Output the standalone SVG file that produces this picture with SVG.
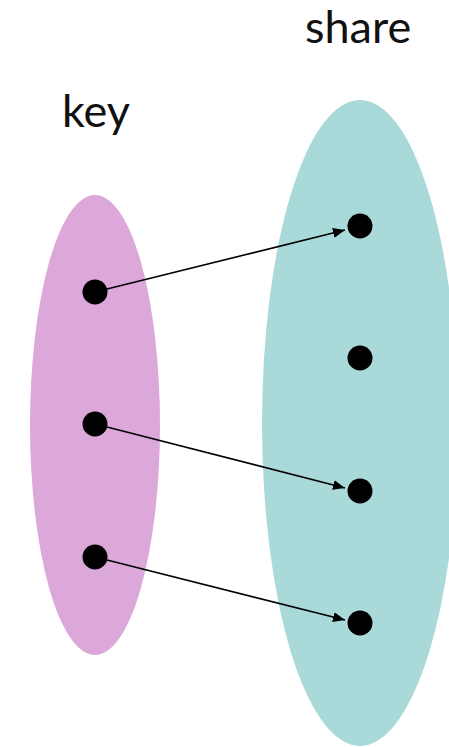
<svg xmlns="http://www.w3.org/2000/svg" width="449" height="747" viewBox="0 0 449 747">
<style>
.lbl{font-family:Lato,"Noto Sans",sans-serif;font-size:45px;fill:#111}
.dot{fill:#000}
.arr{stroke:#000;stroke-width:1.6;fill:none;marker-end:url(#ah)}
</style>
<defs>
<marker id="ah" viewBox="0 0 12 10" refX="12" refY="5" markerWidth="12" markerHeight="10" markerUnits="userSpaceOnUse" orient="auto">
<path d="M0,0 L12,5 L0,10 Z" fill="#000"/>
</marker>
</defs>
<rect width="449" height="747" fill="#fff"/>
<g id="set-key">
<ellipse cx="95" cy="425" rx="65" ry="230" fill="#DCA8DA"/>
<text class="lbl" x="62" y="127">key</text>
</g>
<g id="set-share">
<ellipse cx="360" cy="423" rx="98" ry="323" fill="#A9D9D9"/>
<text class="lbl" x="305" y="43">share</text>
</g>
<g id="k1"><circle class="dot" cx="95" cy="292" r="12.5"/></g>
<g id="k2"><circle class="dot" cx="95" cy="424" r="12.5"/></g>
<g id="k3"><circle class="dot" cx="95" cy="557" r="12.5"/></g>
<g id="s1"><circle class="dot" cx="360" cy="226" r="12.5"/></g>
<g id="s2"><circle class="dot" cx="360" cy="358" r="12.5"/></g>
<g id="s3"><circle class="dot" cx="360" cy="491" r="12.5"/></g>
<g id="s4"><circle class="dot" cx="360" cy="623" r="12.5"/></g>
<g id="connectors">
<line class="arr" x1="107" y1="289" x2="345" y2="230"/>
<line class="arr" x1="107" y1="427" x2="345" y2="488"/>
<line class="arr" x1="107" y1="560" x2="345" y2="620"/>
</g>
</svg>
